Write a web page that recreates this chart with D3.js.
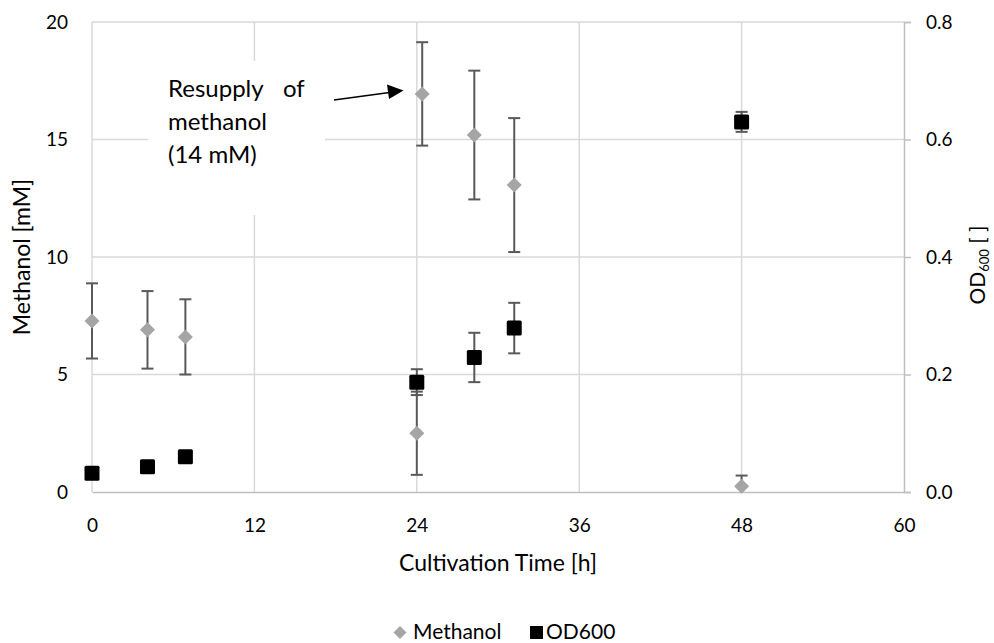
<!DOCTYPE html>
<html><head><meta charset="utf-8">
<script src="https://cdn.jsdelivr.net/npm/d3@7"></script>
<style>body{margin:0;background:#fff;} text{font-family:Lato, "Open Sans", sans-serif;}</style>
</head><body><svg id="c" width="994" height="643"></svg>
<script>
const methTime = [0, 4.1, 6.9, 24.4, 28.25, 31.2, 24, 48];
const methVal  = [7.28, 6.9, 6.6, 16.94, 15.19, 13.06, 2.5, 0.25];
const methErr  = [1.6, 1.65, 1.6, 2.2, 2.74, 2.85, 1.77, 0.45];
const odTime = [0, 4.1, 6.9, 24, 28.25, 31.2, 48];
const odVal  = [0.032, 0.043, 0.060, 0.187, 0.229, 0.279, 0.63];
const odErr  = [0, 0, 0, 0.022, 0.042, 0.043, 0.017];
const xTicks = [0, 12, 24, 36, 48, 60];
const yLeftTicks = [0, 5, 10, 15, 20];
const yRightTicks = [0, 0.2, 0.4, 0.6, 0.8];

const svg = d3.select("#c");
const L = 92, R = 904, T = 22, B = 492;
const x = d3.scaleLinear().domain([0, 60]).range([L, R]);
const yL = d3.scaleLinear().domain([0, 20]).range([B, T]);
const yR = d3.scaleLinear().domain([0, 0.8]).range([B, T]);
const grid = "#d9d9d9", axisC = "#bfbfbf", errC = "#595959";
const fsTick = 19, fsTitle = 23;

// gridlines
svg.append("g").selectAll("line").data(yLeftTicks.slice(1)).join("line")
  .attr("x1", L).attr("x2", R).attr("y1", d => yL(d)).attr("y2", d => yL(d))
  .attr("stroke", grid).attr("stroke-width", 1.5);
svg.append("g").selectAll("line").data(xTicks.slice(1, -1)).join("line")
  .attr("x1", d => x(d)).attr("x2", d => x(d)).attr("y1", T).attr("y2", B)
  .attr("stroke", grid).attr("stroke-width", 1.5);
svg.append("line").attr("x1", L).attr("x2", L).attr("y1", T).attr("y2", B).attr("stroke", grid).attr("stroke-width", 1.5);

// annotation box (covers gridlines)
svg.append("rect").attr("x", 148).attr("y", 61).attr("width", 177).attr("height", 154).attr("fill", "#fff");
const ann = svg.append("g").attr("font-size", 24).attr("fill", "#000");
ann.append("text").attr("x", 168).attr("y", 97).text("Resupply");
ann.append("text").attr("x", 283).attr("y", 97).text("of");
ann.append("text").attr("x", 168).attr("y", 130).text("methanol");
ann.append("text").attr("x", 168).attr("y", 163).text("(14 mM)");
svg.append("line").attr("x1", 334).attr("y1", 100).attr("x2", 395).attr("y2", 91.8)
  .attr("stroke", "#000").attr("stroke-width", 1.5);
svg.append("path").attr("d", d3.line()([[403.5, 90.6], [387, 84.5], [389, 99]]) + "Z").attr("fill", "#000");

// right axis
const rAx = svg.append("g").attr("transform", `translate(${R},0)`)
  .call(d3.axisRight(yR).tickValues(yRightTicks).tickFormat(d3.format(".1f")).tickSize(7).tickPadding(15));
rAx.select(".domain").attr("stroke", axisC).attr("stroke-width", 1.5);
rAx.selectAll(".tick line").attr("stroke", axisC).attr("stroke-width", 1.5);
rAx.selectAll("text").attr("font-size", fsTick).attr("fill", "#000").attr("font-family", "Lato");

// left axis labels
const lAx = svg.append("g").attr("transform", `translate(${L},0)`)
  .call(d3.axisLeft(yL).tickValues(yLeftTicks).tickSize(0).tickPadding(24));
lAx.select(".domain").remove();
lAx.selectAll("text").attr("font-size", fsTick).attr("fill", "#000").attr("font-family", "Lato");

// bottom axis
const bAx = svg.append("g").attr("transform", `translate(0,${B})`)
  .call(d3.axisBottom(x).tickValues(xTicks).tickSize(0).tickPadding(27));
bAx.select(".domain").attr("stroke", axisC).attr("stroke-width", 1.5);
bAx.selectAll("text").attr("font-size", fsTick).attr("fill", "#000").attr("font-family", "Lato");

// axis titles
svg.append("text").attr("x", (L + R) / 2).attr("y", 571).attr("text-anchor", "middle").attr("font-size", fsTitle).text("Cultivation Time [h]");
svg.append("text").attr("transform", `translate(30,${(T + B) / 2}) rotate(-90)`).attr("text-anchor", "middle").attr("font-size", fsTitle).text("Methanol [mM]");
const rt = svg.append("text").attr("transform", `translate(985,265) rotate(-90)`).attr("text-anchor", "middle").attr("font-size", 21);
rt.append("tspan").text("OD");
rt.append("tspan").attr("font-size", 13).attr("dy", 4).text("600");
rt.append("tspan").attr("dy", -4).text(" [ ]");

// error bars
function errBars(times, vals, errs, ys) {
  const g = svg.append("g").attr("stroke", errC).attr("stroke-width", 2);
  times.forEach((t, i) => {
    if (!errs[i]) return;
    const cx = x(t), y1 = ys(Math.max(0, vals[i] - errs[i])), y2 = ys(vals[i] + errs[i]);
    g.append("line").attr("x1", cx).attr("x2", cx).attr("y1", y1).attr("y2", y2);
    if (vals[i] - errs[i] >= 0) g.append("line").attr("x1", cx - 6).attr("x2", cx + 6).attr("y1", y1).attr("y2", y1);
    g.append("line").attr("x1", cx - 6).attr("x2", cx + 6).attr("y1", y2).attr("y2", y2);
  });
}
errBars(methTime, methVal, methErr, yL);
svg.append("g").selectAll("path").data(methTime).join("path")
  .attr("d", (d, i) => { const cx = x(d), cy = yL(methVal[i]), r = 7.5; return `M${cx},${cy - r}L${cx + r},${cy}L${cx},${cy + r}L${cx - r},${cy}Z`; })
  .attr("fill", "#a5a5a5");
errBars(odTime, odVal, odErr, yR);
svg.append("g").selectAll("rect").data(odTime).join("rect")
  .attr("x", d => x(d) - 7.5).attr("y", (d, i) => yR(odVal[i]) - 7.5).attr("width", 15).attr("height", 15)
  .attr("rx", 1.5).attr("fill", "#000");

// legend
const lg = svg.append("g");
lg.append("path").attr("d", "M400,626L406.5,632.5L400,639L393.5,632.5Z").attr("fill", "#a5a5a5");
lg.append("text").attr("x", 413).attr("y", 638.5).attr("font-size", 21).text("Methanol");
lg.append("rect").attr("x", 530).attr("y", 626).attr("width", 13).attr("height", 13).attr("fill", "#000");
lg.append("text").attr("x", 546).attr("y", 638.5).attr("font-size", 21).text("OD600");
</script></body></html>
